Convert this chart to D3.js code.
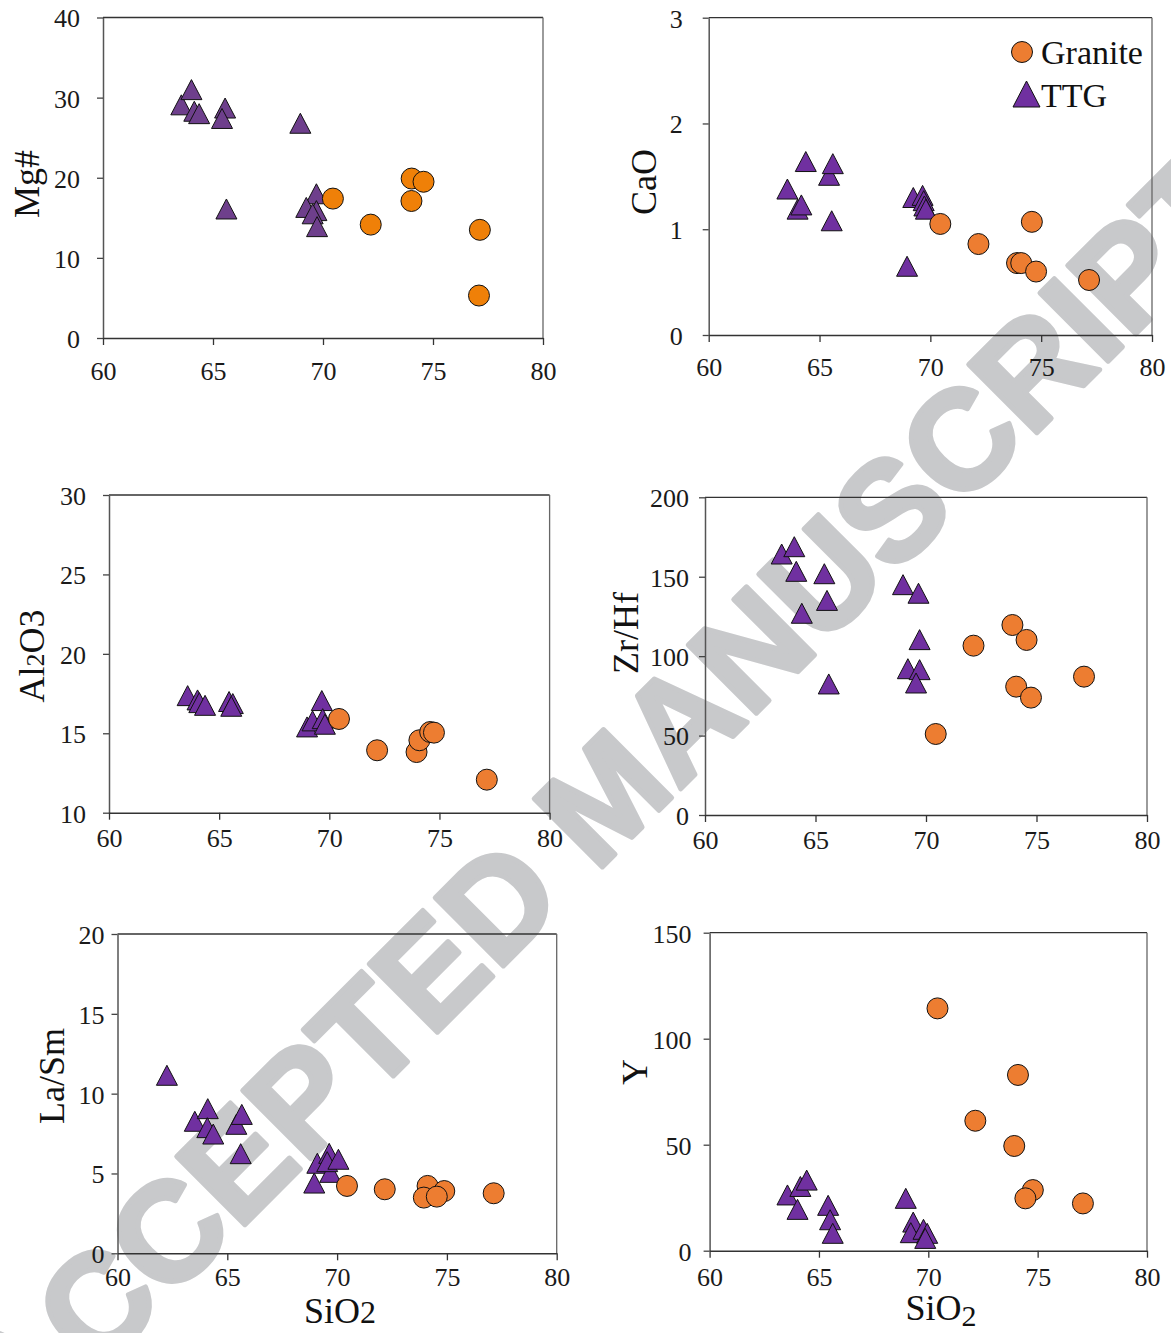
<!DOCTYPE html>
<html><head><meta charset="utf-8">
<script src="https://cdn.jsdelivr.net/npm/d3@7"></script>
<style>
html,body{margin:0;padding:0;background:#fff;}
svg{display:block;}
svg text.serif{font-family:'Liberation Serif','Times New Roman',serif;}
</style></head>
<body>
<svg id="chart" width="1171" height="1333"></svg>
<script>
// ---------------- DATA ----------------
const sio2Ticks = [60, 65, 70, 75, 80];
const seriesNames = ["Granite", "TTG"];

// Mg# vs SiO2
const mgTTG = [[63.56,29.1],[64.02,31.0],[64.15,28.3],[64.37,28.0],[65.55,28.7],[65.41,27.4],[68.97,26.8],[65.61,16.1],[69.70,18.0],[69.24,16.3],[69.70,15.9],[69.53,15.5],[69.73,13.9]];
const mgGranite = [[70.45,17.4],[72.17,14.15],[74.03,19.9],[74.57,19.5],[74.02,17.1],[77.13,13.5],[77.09,5.3]];
const mgTicks = [0, 10, 20, 30, 40];

// CaO vs SiO2
const caoTTG = [[63.55,1.38],[64.01,1.19],[64.18,1.23],[64.38,1.64],[65.43,1.51],[65.60,1.62],[65.55,1.08],[68.95,0.65],[69.23,1.30],[69.65,1.32],[69.70,1.27],[69.73,1.22],[69.80,1.19]];
const caoGranite = [[70.45,1.05],[72.17,0.86],[73.91,0.68],[74.10,0.68],[74.58,1.07],[74.77,0.60],[77.16,0.52]];
const caoTicks = [0, 1, 2, 3];

// Al2O3 vs SiO2
const alTTG = [[63.57,17.37],[64.02,17.1],[64.10,16.93],[64.36,16.76],[65.45,17.0],[65.62,16.87],[65.55,16.7],[69.66,17.06],[68.99,15.4],[69.24,15.78],[69.70,15.92],[69.80,15.57]];
const alGranite = [[70.44,15.9],[72.17,13.93],[73.96,13.82],[74.09,14.56],[74.58,15.08],[74.75,15.04],[77.15,12.08]];
const alTicks = [10, 15, 20, 25, 30];

// Zr/Hf vs SiO2
const zrTTG = [[63.47,164.3],[64.04,168.9],[64.13,153.4],[64.38,127.0],[65.40,151.9],[65.52,135.1],[65.60,82.5],[68.96,145.0],[69.66,139.6],[69.71,110.4],[69.18,92.1],[69.71,91.5],[69.55,83.1]];
const zrGranite = [[70.44,51.0],[72.15,106.6],[73.91,119.6],[74.55,110.2],[74.08,80.8],[74.75,73.9],[77.15,87.1]];
const zrTicks = [0, 50, 100, 150, 200];

// La/Sm vs SiO2
const laTTG = [[62.25,11.15],[63.52,8.27],[64.11,9.06],[64.09,7.87],[64.36,7.47],[65.41,8.08],[65.66,8.7],[65.61,6.24],[68.96,4.4],[69.10,5.64],[69.64,6.26],[69.69,5.07],[69.55,5.74],[70.06,5.89]];
const laGranite = [[70.45,4.22],[72.17,4.01],[74.12,4.22],[74.88,3.9],[73.95,3.49],[74.54,3.55],[77.13,3.76]];
const laTicks = [0, 5, 10, 15, 20];

// Y vs SiO2
const yTTG = [[63.56,26.3],[64.15,30.3],[64.44,33.3],[64.02,19.5],[65.42,21.4],[65.51,14.6],[65.63,8.2],[68.97,24.7],[69.31,13.5],[69.20,8.5],[69.78,10.1],[69.95,8.2],[69.86,5.8]];
const yGranite = [[70.42,114.3],[72.15,61.3],[74.10,82.9],[73.93,49.4],[74.78,28.6],[74.44,24.7],[77.07,22.3]];
const yTicks = [0, 50, 100, 150];

// ---------------- LAYOUT ----------------
const svg = d3.select("#chart");
const SERIF = "'Liberation Serif','Times New Roman',serif";

// watermark (behind)
svg.append("text")
  .attr("transform", "translate(604,794) rotate(-45)")
  .attr("text-anchor", "middle")
  .attr("dy", "0.36em")
  .style("font-family", "'Liberation Sans',Arial,sans-serif")
  .attr("font-weight", "bold")
  .attr("font-size", 140)
  .attr("fill", "#C8C9CB")
  .attr("stroke", "#C8C9CB")
  .attr("stroke-width", 5)
  .attr("stroke-linejoin", "round")
  .text("ACCEPTED MANUSCRIPT");

const panels = [
  {ttg: mgTTG, gr: mgGranite, ticks: mgTicks, l: 103, r: 543, t: 17.5, b: 338, yGap: 23, xDy: 33,
   title: "Mg#", tx: 39, ty: 184, triCol: "#6E3F8C", cirCol: "#EF8008"},
  {ttg: caoTTG, gr: caoGranite, ticks: caoTicks, l: 708.7, r: 1152, t: 17.7, b: 335, yGap: 26, xDy: 32,
   title: "CaO", tx: 656, ty: 182, legend: true},
  {ttg: alTTG, gr: alGranite, ticks: alTicks, l: 109, r: 549.6, t: 495, b: 812.7, yGap: 23, xDy: 25,
   title: "Al2O3", tx: 44, ty: 656},
  {ttg: zrTTG, gr: zrGranite, ticks: zrTicks, l: 705, r: 1147, t: 497.3, b: 815, yGap: 16, xDy: 25,
   title: "Zr/Hf", tx: 638, ty: 633},
  {ttg: laTTG, gr: laGranite, ticks: laTicks, l: 117.5, r: 556.7, t: 934, b: 1253.3, yGap: 13, xDy: 23,
   title: "La/Sm", tx: 64, ty: 1076, xTitle: "plain", xtx: 340, xty: 1323},
  {ttg: yTTG, gr: yGranite, ticks: yTicks, l: 709.6, r: 1147, t: 932.7, b: 1250.7, yGap: 18, xDy: 26,
   title: "Y", tx: 647, ty: 1072, xTitle: "sub", xtx: 941, xty: 1320}
];

const triPath = (w, h) => `M0,${-h/2}L${w/2},${h/2}L${-w/2},${h/2}Z`;

panels.forEach(p => {
  const triCol = p.triCol || "#7030A0";
  const cirCol = p.cirCol || "#ED7D31";
  const x = d3.scaleLinear().domain([60, 80]).range([p.l, p.r]);
  const y = d3.scaleLinear().domain([p.ticks[0], p.ticks[p.ticks.length-1]]).range([p.b, p.t]);
  const g = svg.append("g");

  // frame: top and right
  g.append("line").attr("x1", p.l).attr("x2", p.r).attr("y1", p.t).attr("y2", p.t)
    .attr("stroke", "#333").attr("stroke-width", 1.3);
  g.append("line").attr("x1", p.r).attr("x2", p.r).attr("y1", p.t).attr("y2", p.b)
    .attr("stroke", "#666").attr("stroke-width", 1.3);

  // y axis
  const ya = g.append("g").attr("transform", `translate(${p.l},0)`)
    .call(d3.axisLeft(y).tickValues(p.ticks).tickFormat(d3.format("d"))
      .tickSize(6).tickSizeOuter(0).tickPadding(p.yGap - 6));
  ya.attr("font-family", null).attr("font-size", null);
  ya.select(".domain").attr("stroke", "#555").attr("stroke-width", 1.5);
  ya.selectAll(".tick line").attr("stroke", "#444").attr("stroke-width", 1.3);
  ya.selectAll("text").attr("class", "serif").style("font-family", SERIF)
    .attr("font-size", 26).attr("fill", "#1a1a1a").attr("dy", "0.36em");

  // x axis
  const xa = g.append("g").attr("transform", `translate(0,${p.b})`)
    .call(d3.axisBottom(x).tickValues(sio2Ticks).tickFormat(d3.format("d")).tickSize(7).tickSizeOuter(0));
  xa.attr("font-family", null).attr("font-size", null);
  xa.select(".domain").attr("stroke", "#333").attr("stroke-width", 1.5);
  xa.selectAll(".tick line").attr("stroke", "#333").attr("stroke-width", 1.3);
  xa.selectAll("text").attr("class", "serif").style("font-family", SERIF)
    .attr("font-size", 26).attr("fill", "#1a1a1a").attr("y", p.xDy).attr("dy", "0.36em");

  // y title
  const tt = g.append("text").attr("class", "serif").style("font-family", SERIF)
    .attr("transform", `translate(${p.tx},${p.ty}) rotate(-90)`)
    .attr("text-anchor", "middle")
    .attr("font-size", 36).attr("fill", "#111");
  if (p.title === "Al2O3") {
    tt.append("tspan").text("Al");
    tt.append("tspan").attr("font-size", 26).text("2");
    tt.append("tspan").text("O3");
  } else {
    tt.text(p.title);
  }

  // x title
  if (p.xTitle) {
    const xt = g.append("text").attr("class", "serif").style("font-family", SERIF)
      .attr("x", p.xtx).attr("y", p.xty)
      .attr("text-anchor", "middle")
      .attr("font-size", 36).attr("fill", "#111");
    xt.append("tspan").text("SiO");
    if (p.xTitle === "sub") {
      xt.append("tspan").attr("font-size", 30).attr("dy", 6).text("2");
    } else {
      xt.append("tspan").attr("font-size", 32).text("2");
    }
  }

  // markers
  g.append("g").selectAll("path").data(p.ttg).join("path")
    .attr("d", triPath(21, 20))
    .attr("transform", d => `translate(${x(d[0])},${y(d[1])})`)
    .attr("fill", triCol).attr("stroke", "#111").attr("stroke-width", 1);
  g.append("g").selectAll("circle").data(p.gr).join("circle")
    .attr("cx", d => x(d[0])).attr("cy", d => y(d[1])).attr("r", 10.5)
    .attr("fill", cirCol).attr("stroke", "#111").attr("stroke-width", 1);

  // legend
  if (p.legend) {
    const lg = g.append("g");
    lg.append("circle").attr("cx", 1022).attr("cy", 52).attr("r", 10.5)
      .attr("fill", cirCol).attr("stroke", "#111").attr("stroke-width", 1);
    lg.append("path").attr("d", triPath(27, 26)).attr("transform", "translate(1026.5,94)")
      .attr("fill", triCol).attr("stroke", "#111").attr("stroke-width", 1);
    lg.append("text").attr("class", "serif").style("font-family", SERIF).attr("x", 1041).attr("y", 64)
      .attr("font-size", 34).attr("fill", "#111").text(seriesNames[0]);
    lg.append("text").attr("class", "serif").style("font-family", SERIF).attr("x", 1041).attr("y", 107)
      .attr("font-size", 34).attr("fill", "#111").text(seriesNames[1]);
  }
});
</script>
</body></html>
